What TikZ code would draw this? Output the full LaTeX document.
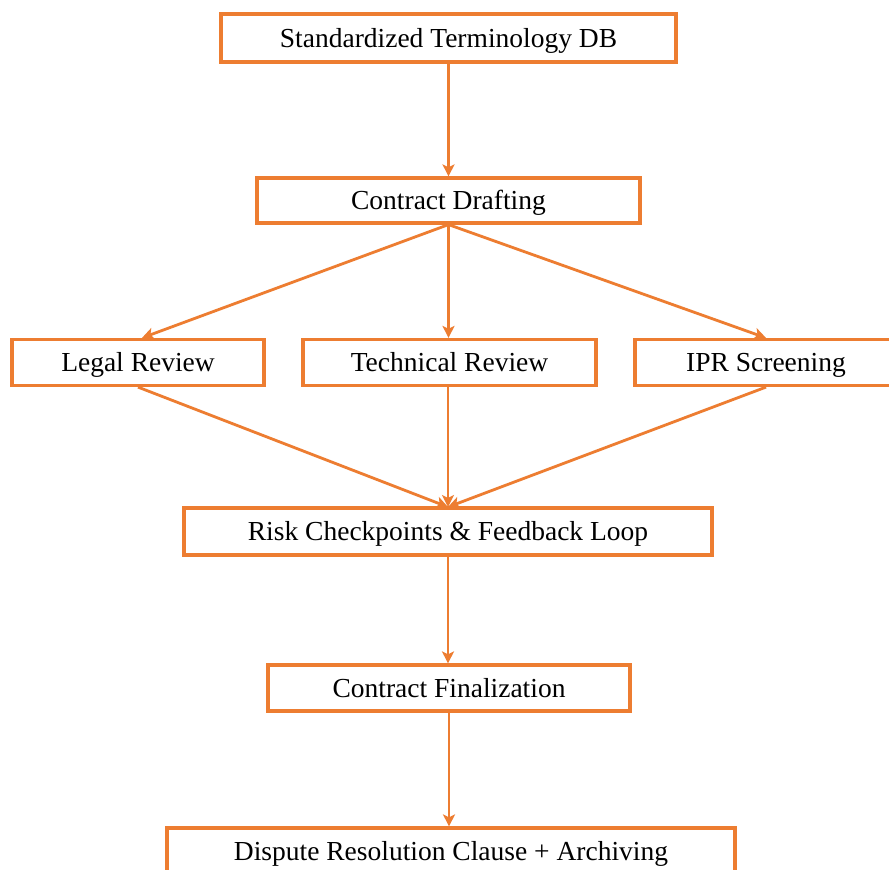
\documentclass[tikz,border=0pt]{standalone}
\usepackage{fontspec}
\setmainfont{Liberation Serif}
\usetikzlibrary{arrows.meta}
\definecolor{boxorange}{HTML}{ED7D31}
\tikzset{
  flowbox/.style={draw=boxorange, line width=3.2pt, fill=white, inner sep=0pt,
    text height=22pt, text depth=4pt, font=\fontsize{27.5pt}{30pt}\selectfont},
  flowarrow/.style={draw=boxorange, line width=2.8pt,
    -{Stealth[length=12pt,width=12pt,inset=3pt]}}
}
\begin{document}
\begin{tikzpicture}[x=1pt,y=1pt]
\useasboundingbox[fill=white] (0,0) rectangle (889,-870);
\node[flowbox, minimum width=455pt, minimum height=48pt] (db) at (448.5,-38) {Standardized Terminology DB};
\node[flowbox, minimum width=383pt, minimum height=45pt] (draft) at (448.5,-200.5) {Contract Drafting};
\node[flowbox, minimum width=252pt, minimum height=46pt] (legal) at (138,-362.5) {Legal Review};
\node[flowbox, minimum width=293pt, minimum height=46pt] (tech) at (449.5,-362.5) {Technical Review};
\node[flowbox, minimum width=262pt, minimum height=46pt] (ipr) at (766,-362.5) {IPR Screening};
\node[flowbox, minimum width=528pt, minimum height=47pt] (risk) at (448,-531.5) {Risk Checkpoints \& Feedback Loop};
\node[flowbox, minimum width=362pt, minimum height=46pt] (final) at (449,-688) {Contract Finalization};
\node[flowbox, minimum width=568pt, minimum height=47pt] (dispute) at (451,-851.5) {Dispute Resolution Clause + Archiving};
\coordinate (riskin) at (448,-507);
\draw[flowarrow] (db.south) -- (draft.north);
\draw[flowarrow] (draft.south) -- ([xshift=4pt]legal.north);
\draw[flowarrow] (draft.south) -- (tech.north -| draft.south);
\draw[flowarrow] (draft.south) -- (ipr.north);
\draw[flowarrow] (legal.south) -- (riskin);
\draw[flowarrow] (tech.south -| riskin) -- (riskin);
\draw[flowarrow] (ipr.south) -- (riskin);
\draw[flowarrow] (risk.south) -- (final.north -| risk.south);
\draw[flowarrow] (final.south) -- (dispute.north -| final.south);
\end{tikzpicture}
\end{document}
